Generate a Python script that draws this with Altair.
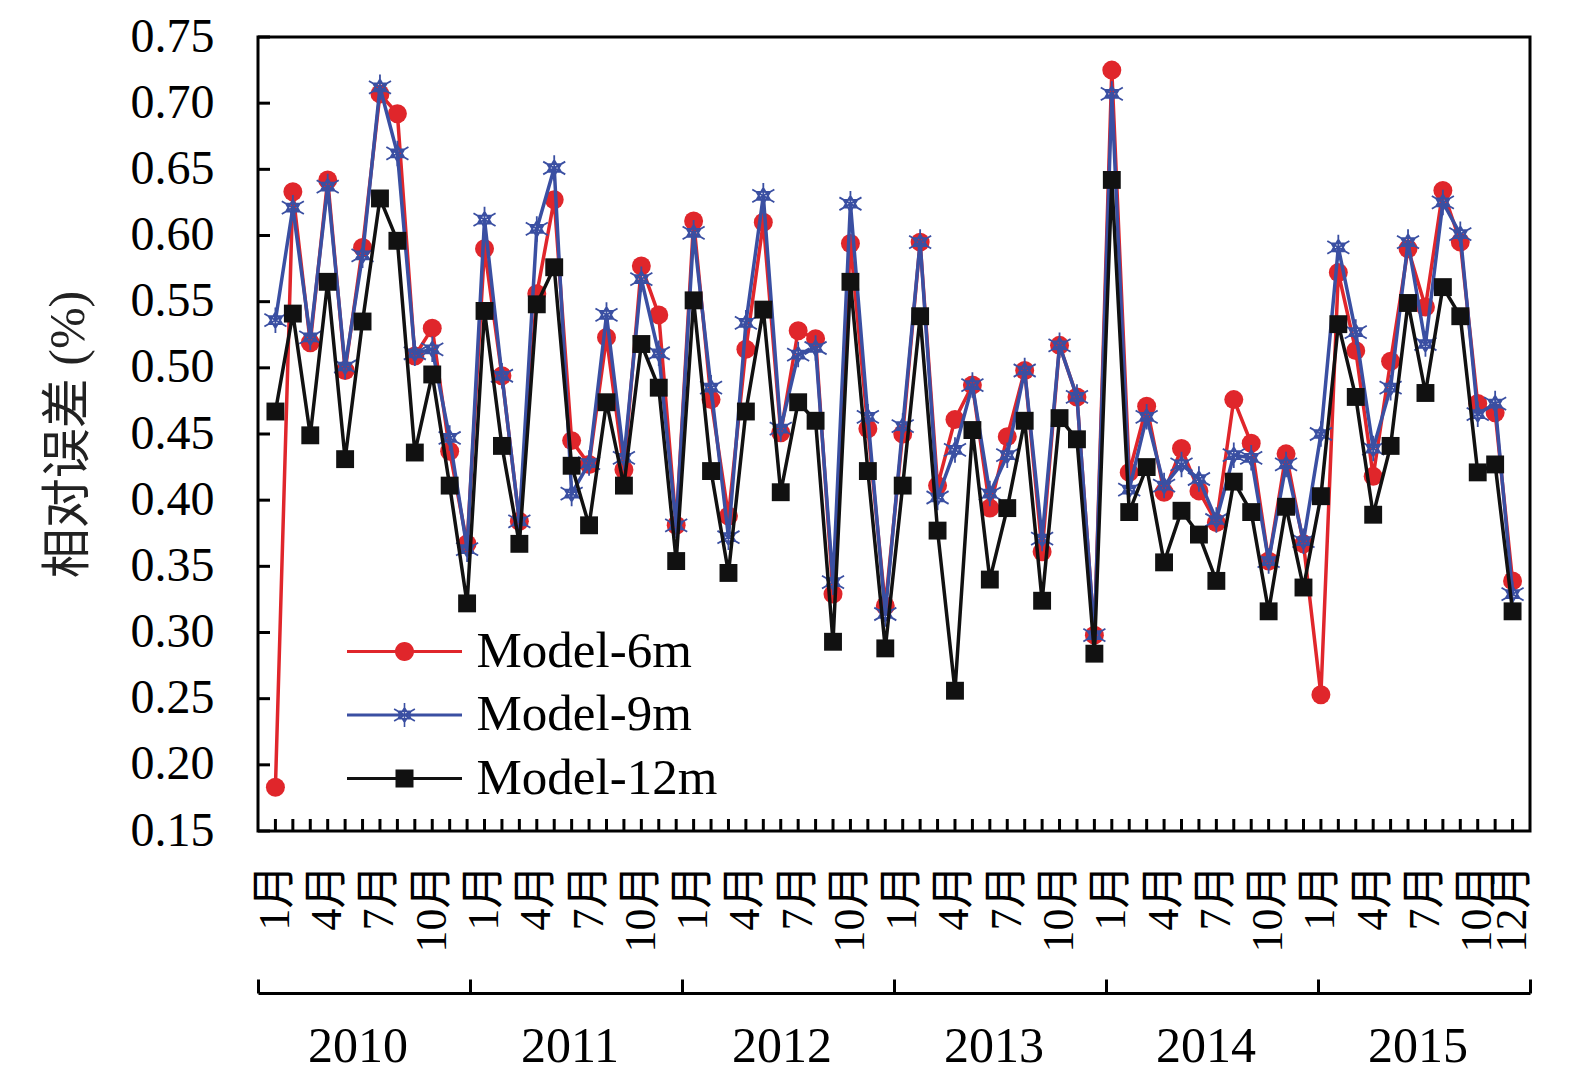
import math
import altair as alt
import pandas as pd

# ---------------- data ----------------
years = ["2010", "2011", "2012", "2013", "2014", "2015"]
series_names = ["Model-6m", "Model-9m", "Model-12m"]
y_tick_values = [0.15, 0.20, 0.25, 0.30, 0.35, 0.40, 0.45, 0.50, 0.55, 0.60, 0.65, 0.70, 0.75]
month_label_idx = [0, 3, 6, 9, 12, 15, 18, 21, 24, 27, 30, 33, 36, 39, 42, 45,
                   48, 51, 54, 57, 60, 63, 66, 69, 71]

model_6m = [
    0.183, 0.633, 0.519, 0.642, 0.498, 0.591, 0.707, 0.692, 0.509, 0.530, 0.437, 0.367,
    0.590, 0.494, 0.384, 0.556, 0.627, 0.445, 0.427, 0.523, 0.423, 0.577, 0.540, 0.381,
    0.611, 0.476, 0.388, 0.514, 0.610, 0.451, 0.528, 0.522, 0.329, 0.594, 0.454, 0.320,
    0.450, 0.595, 0.411, 0.461, 0.487, 0.394, 0.448, 0.498, 0.361, 0.517, 0.478, 0.298,
    0.725, 0.421, 0.471, 0.406, 0.439, 0.407, 0.383, 0.476, 0.443, 0.354, 0.435, 0.367,
    0.253, 0.572, 0.513, 0.418, 0.505, 0.590, 0.546, 0.634, 0.595, 0.473, 0.466, 0.339,
]
model_9m = [
    0.536, 0.621, 0.523, 0.637, 0.501, 0.585, 0.712, 0.662, 0.511, 0.514, 0.447, 0.363,
    0.612, 0.494, 0.384, 0.605, 0.651, 0.405, 0.428, 0.540, 0.432, 0.567, 0.511, 0.381,
    0.602, 0.485, 0.372, 0.534, 0.630, 0.454, 0.510, 0.515, 0.338, 0.624, 0.463, 0.314,
    0.456, 0.595, 0.402, 0.438, 0.487, 0.405, 0.434, 0.498, 0.371, 0.517, 0.478, 0.298,
    0.707, 0.408, 0.463, 0.411, 0.427, 0.416, 0.385, 0.434, 0.432, 0.354, 0.427, 0.369,
    0.450, 0.591, 0.527, 0.439, 0.485, 0.595, 0.518, 0.625, 0.601, 0.465, 0.473, 0.329,
]
model_12m = [
    0.467, 0.541, 0.449, 0.565, 0.431, 0.535, 0.628, 0.596, 0.436, 0.495, 0.411, 0.322,
    0.543, 0.441, 0.367, 0.548, 0.576, 0.426, 0.381, 0.474, 0.411, 0.518, 0.485, 0.354,
    0.551, 0.422, 0.345, 0.467, 0.544, 0.406, 0.474, 0.460, 0.293, 0.565, 0.422, 0.288,
    0.411, 0.539, 0.377, 0.256, 0.453, 0.340, 0.394, 0.460, 0.324, 0.462, 0.446, 0.284,
    0.642, 0.391, 0.425, 0.353, 0.392, 0.374, 0.339, 0.414, 0.391, 0.316, 0.395, 0.334,
    0.403, 0.533, 0.478, 0.389, 0.441, 0.549, 0.481, 0.561, 0.539, 0.421, 0.427, 0.316,
]

rows = []
for name, vals in zip(series_names, [model_6m, model_9m, model_12m]):
    for i, v in enumerate(vals):
        rows.append({"idx": i, "series": name, "value": v})
df = pd.DataFrame(rows)
n_months = len(model_6m)
xtick_df = pd.DataFrame({"idx": list(range(n_months))})
ytick_df = pd.DataFrame({"v": y_tick_values})
years_df = pd.DataFrame({"year": years})

# ---------------- style ----------------
RED = "#e0262b"
BLUE = "#3a4fa2"
BLACK = "#111111"
SERIF = "Liberation Serif, Times New Roman, Noto Sans CJK SC"
W, H = 1272, 794
YEAR_OFFSET = 162


def f(v):
    return f"{v:.4f}".rstrip("0").rstrip(".")


def seg_rect(x1, y1, x2, y2, h):
    dx, dy = x2 - x1, y2 - y1
    L = math.hypot(dx, dy)
    nx, ny = dy / L * h, -dx / L * h
    pts = [(x1 + nx, y1 + ny), (x2 + nx, y2 + ny), (x2 - nx, y2 - ny), (x1 - nx, y1 - ny)]
    return "M" + "L".join(f"{f(a)},{f(b)}" for a, b in pts) + "Z"


def circle_path(r):
    return f"M{f(r)},0A{f(r)},{f(r)} 0 1,1 {f(-r)},0A{f(r)},{f(r)} 0 1,1 {f(r)},0Z"


def square_path(a):
    return f"M{f(-a)},{f(-a)}L{f(a)},{f(-a)}L{f(a)},{f(a)}L{f(-a)},{f(a)}Z"


# star marker for data points (stroked)
STAR = ("M0,-1L0,1M0.866,-0.5L-0.866,0.5M-0.866,-0.5L0.866,0.5"
        "M0,-0.62L0.537,0.31L-0.537,0.31ZM0,0.62L0.537,-0.31L-0.537,-0.31Z")

# legend symbols: line + marker, all as filled shapes
U = 11.5  # px per path unit for symbolSize 529
line_part = seg_rect(-5, 0, 5, 0, 1.6 / U)
leg_red = line_part + " " + circle_path(9.5 / U)
star_bars = []
R = 12 / U
for ang in (90, 30, 150):
    a = math.radians(ang)
    star_bars.append(seg_rect(-R * math.cos(a), -R * math.sin(a), R * math.cos(a), R * math.sin(a), 0.8 / U))
r2 = 0.62 * R
tri_up = [(0, -r2), (0.866 * r2, 0.5 * r2), (-0.866 * r2, 0.5 * r2)]
tri_dn = [(0, r2), (0.866 * r2, -0.5 * r2), (-0.866 * r2, -0.5 * r2)]
for tri in (tri_up, tri_dn):
    for k in range(3):
        (ax, ay), (bx, by) = tri[k], tri[(k + 1) % 3]
        star_bars.append(seg_rect(ax, ay, bx, by, 0.75 / U))
leg_blue = line_part + " " + " ".join(star_bars)
leg_black = line_part + " " + square_path(9 / U)

xs = alt.Scale(domain=[-1, n_months], nice=False, zero=False)
ys = alt.Scale(domain=[0.15, 0.75], nice=False, zero=False)

X_AX = alt.Axis(values=month_label_idx, labelExpr="(datum.value % 12 + 1) + '月'",
                orient="bottom", labelAngle=270, labelFontSize=44, labelFont=SERIF,
                labelColor="black", labelPadding=33, ticks=False, tickSize=0,
                domain=False, grid=False, title=None, labelOverlap=False,
                labelFlush=False, labelBound=False)
Y_AX = alt.Axis(values=y_tick_values, format=".2f", labelFontSize=48, labelFont=SERIF,
                labelColor="black", labelPadding=44, ticks=False, tickSize=0,
                domain=False, grid=False, title="相对误差 (%)", titleFont=SERIF,
                titleFontSize=50, titleFontWeight="normal", titleColor="#222222",
                titlePadding=37, labelOverlap=False)

LEG = alt.Legend(title=None, orient="none", legendX=121, legendY=589,
                 symbolSize=529, symbolStrokeWidth=0, symbolOpacity=1,
                 labelFont=SERIF, labelFontSize=51, labelColor="black",
                 labelOffset=46.5, rowPadding=11.5, padding=0, labelLimit=0)

X = alt.X("idx:Q", scale=xs, axis=X_AX)
Y = alt.Y("value:Q", scale=ys, axis=Y_AX)


def series_layers(name, color, point_kwargs):
    base = alt.Chart(df).transform_filter(alt.datum.series == name)
    line = base.mark_line(color=color, strokeWidth=3.5).encode(x=X, y=Y)
    pts = base.mark_point(opacity=1, **point_kwargs).encode(x=X, y=Y)
    return [line, pts]


red_layers = series_layers("Model-6m", RED, dict(shape="circle", filled=True, color=RED, size=360))
blue_layers = series_layers("Model-9m", BLUE, dict(shape=STAR, filled=False, color=BLUE, size=650, strokeWidth=1.8))
black_layers = series_layers("Model-12m", BLACK, dict(shape="square", filled=True, color=BLACK, size=320))

xticks = alt.Chart(xtick_df).mark_tick(orient="vertical", size=12, thickness=3, yOffset=-6,
                                        color="black", opacity=1).encode(
    x=alt.X("idx:Q", scale=xs, axis=X_AX),
    y=alt.YDatum(0.15, scale=ys, axis=Y_AX),
)
yticks = alt.Chart(ytick_df).mark_tick(orient="horizontal", size=12, thickness=3, xOffset=6,
                                        color="black", opacity=1).encode(
    x=alt.XDatum(-1, scale=xs, axis=X_AX),
    y=alt.Y("v:Q", scale=ys, axis=Y_AX),
)

legend_layer = alt.Chart(df).transform_filter("false").mark_point(filled=True, opacity=1).encode(
    x=X, y=Y,
    color=alt.Color("series:N", scale=alt.Scale(domain=series_names, range=[RED, BLUE, BLACK]), legend=LEG),
    shape=alt.Shape("series:N", scale=alt.Scale(domain=series_names, range=[leg_red, leg_blue, leg_black]), legend=LEG),
)

main = alt.layer(xticks, yticks, *red_layers, *blue_layers, *black_layers, legend_layer)

band = alt.Scale(type="band", domain=years, paddingInner=0, paddingOuter=0)
YR_LABEL_AX = alt.Axis(orient="bottom", offset=YEAR_OFFSET, domain=False, ticks=False, tickSize=0,
                       labelPadding=28, labelOffset=-6, labelFontSize=50, labelFont=SERIF,
                       labelColor="black", labelAngle=0, title=None, grid=False)
YR_TICK_AX = alt.Axis(orient="top", offset=-(H + YEAR_OFFSET), domain=True, domainColor="black",
                      domainWidth=3, ticks=True, tickBand="extent", tickSize=14, tickWidth=3,
                      tickColor="black", labels=False, title=None, grid=False)
year_labels = alt.Chart(years_df).mark_point(opacity=0).encode(x=alt.X("year:N", scale=band, axis=YR_LABEL_AX))
year_ticks = alt.Chart(years_df).mark_point(opacity=0).encode(x=alt.X("year:N", scale=band, axis=YR_TICK_AX))
year_group = alt.layer(year_labels, year_ticks).resolve_axis(x="independent")

chart = (
    alt.layer(main, year_group)
    .resolve_scale(x="independent")
    .properties(width=W, height=H, autosize=alt.AutoSizeParams(type="none"),
                padding={"left": 250, "top": 29, "right": 20, "bottom": 248},
                background="white")
    .configure_view(stroke="black", strokeWidth=3)
)

chart.save("out.html", embed_options={"renderer": "svg", "actions": False})
